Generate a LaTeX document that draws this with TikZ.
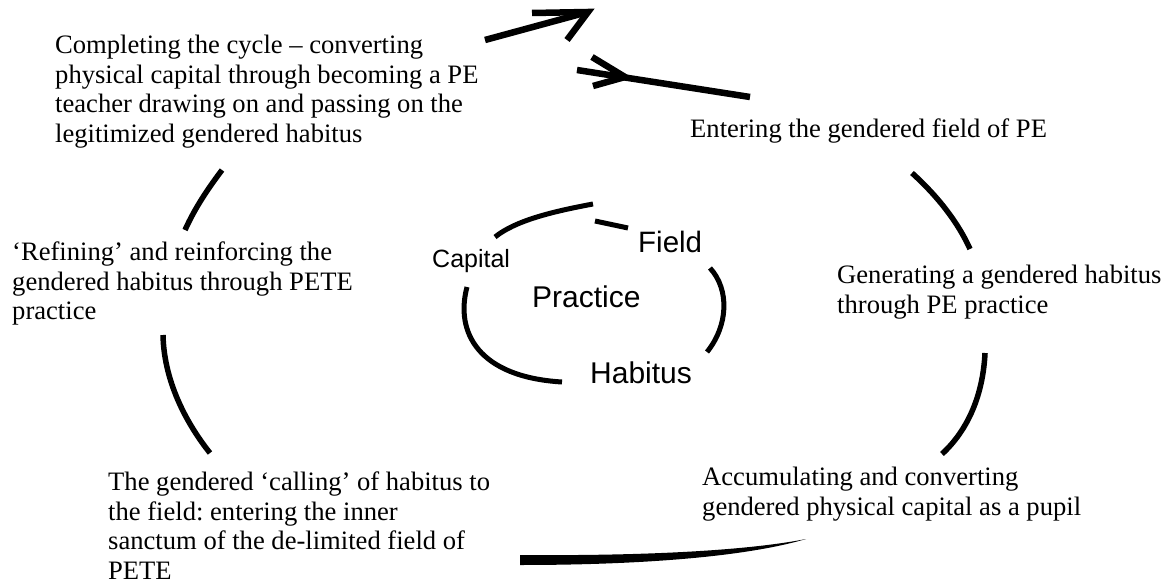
\documentclass[tikz,border=0pt]{standalone}
\usepackage{fontspec}
\setmainfont{Liberation Serif}
\setsansfont{Liberation Sans}
\frenchspacing
\begin{document}
\begin{tikzpicture}[x=1pt,y=-1pt,
  lbl/.style={inner sep=0pt,anchor=north west,align=left,font=\fontsize{26.6pt}{29.6pt}\selectfont\frenchspacing},
  core/.style={inner sep=0pt,anchor=base west,font=\sffamily\fontsize{30pt}{34pt}\selectfont},
  arc/.style={line width=5.5pt,line cap=butt},
  inarc/.style={line width=5pt,line cap=butt},
  arr/.style={line width=6.5pt,line cap=butt,line join=miter}]
\useasboundingbox (0,0) rectangle (1167,588);
% outer labels
\node[lbl] (cycle) at (55,34.8) {Completing the cycle -- converting\\physical capital through becoming a PE\\teacher drawing on and passing on the\\legitimized gendered habitus};
\node[lbl] (entering) at (690,118.8) {Entering the gendered field of PE};
\node[lbl] (refining) at (12,241.8) {‘Refining’ and reinforcing the\\gendered habitus through PETE\\practice};
\node[lbl] (generating) at (837,264.8) {Generating a gendered habitus\\through PE practice};
\node[lbl] (accum) at (702,466.8) {Accumulating and converting\\gendered physical capital as a pupil};
\node[lbl] (calling) at (108,471.8) {The gendered ‘calling’ of habitus to\\the field: entering the inner\\sanctum of the de-limited field of\\PETE};
% inner labels
\node[core,font=\sffamily\fontsize{25pt}{28pt}\selectfont] (capital) at (432,267) {Capital};
\node[core,font=\sffamily\fontsize{29.5pt}{33pt}\selectfont] (field) at (638,252) {Field};
\node[core] (practice) at (532,307) {Practice};
\node[core] (habitus) at (590,383) {Habitus};
% outer cycle arcs
\draw[arc] (912,173) .. controls (933,192) and (956,218) .. (970,249);
\draw[arc] (985,353) .. controls (983,395) and (968,430) .. (942,454);
\fill (520,555) .. controls (640,556) and (745,551) .. (806,539)
      .. controls (745,557) and (640,565) .. (520,565) -- cycle;
\draw[arc] (210,453) .. controls (190,428) and (164,385) .. (163,335);
\draw[arc] (185,230) .. controls (195,208) and (207,190) .. (222,170);
% arrows at top
\draw[arr] (485,40) -- (588,12);
\draw[arr] (532,13) -- (588,12) -- (567,40);
\draw[arr] (577,70) -- (750,97);
\draw[arr] (592,57) -- (625,77) -- (593,86);
% inner loop
\draw[inarc] (495,237) .. controls (515,221) and (550,212) .. (593,204);
\draw[inarc] (595,221) -- (628,228);
\draw[inarc] (710,268) .. controls (730,290) and (728,326) .. (707,352);
\draw[inarc] (467,287) .. controls (455,332) and (478,377) .. (562,382);
\end{tikzpicture}
\end{document}
